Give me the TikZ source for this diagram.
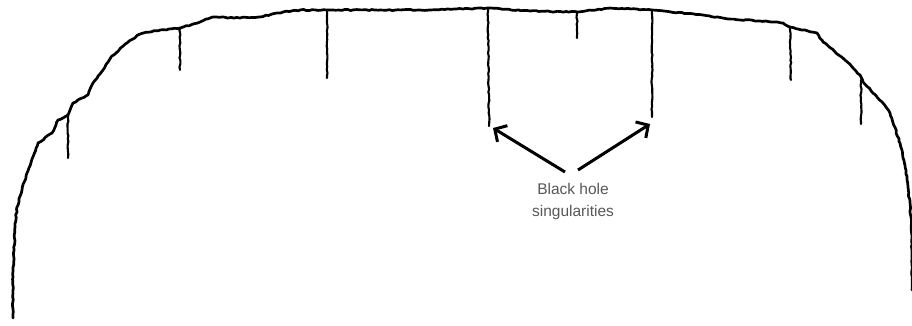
\documentclass[tikz,border=0pt]{standalone}
\usepackage{fontspec}
\setmainfont{Liberation Sans}
\usetikzlibrary{decorations.pathmorphing,arrows.meta}
\begin{document}
\begin{tikzpicture}[x=1pt,y=-1pt,
  rough/.style={decorate,decoration={random steps,segment length=3pt,amplitude=0.55pt}},
  horizon/.style={rough,line width=2.7pt,line join=round,line cap=round},
  spike/.style={rough,line width=2.1pt,line cap=round},
  pointer/.style={line width=3pt,-{Straight Barb[length=9pt,width=19pt,line width=3pt]}},
  caption/.style={text=black!66,font=\fontsize{15.5}{22}\selectfont,align=center,inner sep=0pt,anchor=north}]
\pgfmathsetseed{7}
\useasboundingbox (0,0) rectangle (912,325);

% the rounded future boundary
\draw[horizon] (13,318) -- (13,277) -- (15,227) -- (17,207) -- (22,190)
  -- (27,173) -- (38,143) -- (52,133) -- (58,120) -- (68,115) -- (73,103)
  -- (88,95) -- (93,83) -- (103,70) -- (112,56) -- (127,43) -- (140,34)
  -- (160,30) -- (180,28) -- (200,22) -- (213,17) -- (240,18) -- (260,17)
  -- (283,12) -- (300,10) -- (330,10) -- (380,10) -- (430,10) -- (488,8)
  -- (530,11) -- (578,12) -- (610,8) -- (652,10) -- (703,15) -- (728,19)
  -- (760,21) -- (783,23) -- (790,27) -- (817,33) -- (823,42) -- (845,60)
  -- (860,75) -- (863,82) -- (883,103) -- (890,113) -- (900,143)
  -- (905,165) -- (908,187) -- (911,217) -- (912,250) -- (912,290);

% tops and bottoms of the singularity lines
\coordinate (t1) at (68,115);  \coordinate (b1) at (68,158);
\coordinate (t2) at (180,28);  \coordinate (b2) at (180,70);
\coordinate (t3) at (327,10);  \coordinate (b3) at (327,78);
\coordinate (t4) at (488,8);   \coordinate (b4) at (489,126);
\coordinate (t5) at (577,12);  \coordinate (b5) at (577,38);
\coordinate (t6) at (652,10);  \coordinate (b6) at (652,117);
\coordinate (t7) at (790,27);  \coordinate (b7) at (791,80);
\coordinate (t8) at (861,80);  \coordinate (b8) at (861,124);

\foreach \i in {1,...,8} \draw[spike] (t\i) -- (b\i);

% label and its two arrows
\node[caption] (lbl) at (573,183) {Black hole\\singularities};
\coordinate (s1) at (565,172);
\coordinate (s2) at (578,170);
\coordinate (h1) at (493,128);
\coordinate (h2) at (650,124);
\draw[pointer] (s1) -- (h1);
\draw[pointer] (s2) -- (h2);
\end{tikzpicture}
\end{document}
